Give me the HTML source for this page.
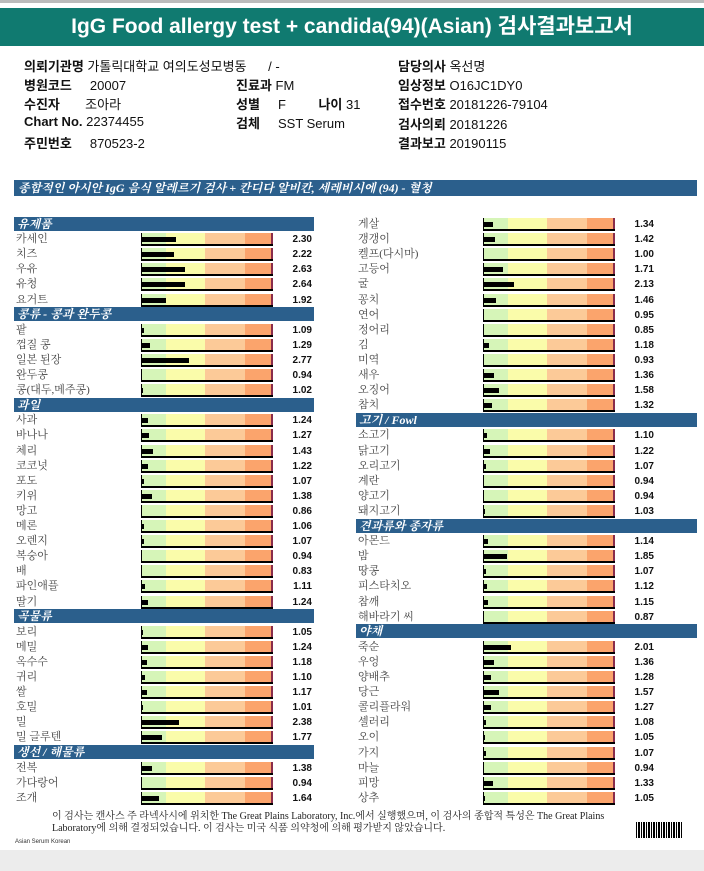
<!DOCTYPE html>
<html><head><meta charset="utf-8">
<style>
body{margin:0;width:704px;height:871px;background:#fff;position:relative;overflow:hidden;font-family:"Liberation Sans","Noto Sans CJK KR",sans-serif}
#topline{position:absolute;left:0;top:0;width:704px;height:3px;background:#bbb}
#title{position:absolute;left:0;top:8px;width:704px;height:38px;background:#107a70;color:#fff;font-size:21px;font-weight:bold;text-align:center;line-height:38px}
.info{position:absolute;font-size:13px;color:#111;white-space:nowrap}
.info b{font-weight:bold}
#banner{position:absolute;left:14px;top:180px;width:683px;height:16px;background:#2b5f8c;color:#fff;font:italic bold 12px "Liberation Serif","Noto Serif CJK SC",serif;line-height:16px;padding-left:4px;box-sizing:border-box}
.hdr{position:absolute;height:14px;background:#2b5f8c;color:#fff;font:italic bold 12px "Liberation Serif","Noto Serif CJK SC",serif;line-height:14px;padding-left:3px;box-sizing:border-box}
.lbl{position:absolute;font:11px "Liberation Serif","Noto Serif CJK SC",serif;color:#444;line-height:13px;white-space:nowrap}
.val{position:absolute;font:bold 10px "Liberation Sans",sans-serif;color:#111;text-align:right;width:40px;line-height:13px}
.track{position:absolute;height:13px;width:132px;border-left:1px solid #000;border-bottom:2px solid #000;box-sizing:border-box;background:linear-gradient(to right,#d6f5b8 0,#d6f5b8 24px,#fafcaa 24px,#fafcaa 63px,#fcca98 63px,#fcca98 103px,#fba46c 103px,#fba46c 129px,#8a2c4a 129px,#8a2c4a 132px)}
.bar{position:absolute;left:0;top:4px;height:5px;background:#000}
#foot{position:absolute;left:52px;top:811px;width:560px;font:10px "Liberation Serif","Noto Serif CJK SC",serif;color:#222;line-height:12px}
#small{position:absolute;left:15px;top:839px;font-size:6px;color:#333}
#bottom{position:absolute;left:0;top:850px;width:704px;height:21px;background:#ececec}
#barcode{position:absolute;left:636px;top:822px;width:47px;height:16px;background:repeating-linear-gradient(to right,#000 0,#000 1px,#fff 1px,#fff 2px,#000 2px,#000 4px,#fff 4px,#fff 5px)}
</style></head><body>
<div id="topline"></div>
<div id="title">IgG Food allergy test + candida(94)(Asian) 검사결과보고서</div>

<div class="info" style="left:24px;top:56px"><b>의뢰기관명</b> 가톨릭대학교 여의도성모병동 &nbsp;&nbsp;&nbsp;&nbsp; / -</div>
<div class="info" style="left:24px;top:75px"><b>병원코드</b> &nbsp;&nbsp;&nbsp; 20007</div>
<div class="info" style="left:24px;top:94px"><b>수진자</b> &nbsp;&nbsp;&nbsp;&nbsp;&nbsp; 조아라</div>
<div class="info" style="left:24px;top:114px"><b>Chart No.</b> 22374455</div>
<div class="info" style="left:24px;top:133px"><b>주민번호</b> &nbsp;&nbsp;&nbsp; 870523-2</div>
<div class="info" style="left:236px;top:75px"><b>진료과</b> FM</div>
<div class="info" style="left:236px;top:94px"><b>성별</b> &nbsp;&nbsp;&nbsp; F &nbsp;&nbsp;&nbsp;&nbsp;&nbsp;&nbsp;&nbsp; <b>나이</b> 31</div>
<div class="info" style="left:236px;top:113px"><b>검체</b> &nbsp;&nbsp;&nbsp; SST Serum</div>
<div class="info" style="left:398px;top:56px"><b>담당의사</b> 옥선명</div>
<div class="info" style="left:398px;top:75px"><b>임상정보</b> O16JC1DY0</div>
<div class="info" style="left:398px;top:94px"><b>접수번호</b> 20181226-79104</div>
<div class="info" style="left:398px;top:114px"><b>검사의뢰</b> 20181226</div>
<div class="info" style="left:398px;top:133px"><b>결과보고</b> 20190115</div>

<div id="banner">종합적인 아시안 IgG 음식 알레르기 검사 + 칸디다 알비칸, 세레비시에 (94) - 혈청</div>

<div id="chart"></div>

<div id="foot">이 검사는 캔사스 주 라넥사시에 위치한 The Great Plains Laboratory, Inc.에서 실행했으며, 이 검사의 종합적 특성은 The Great Plains Laboratory에 의해 결정되었습니다. 이 검사는 미국 식품 의약청에 의해 평가받지 않았습니다.</div>
<div id="small">Asian Serum Korean</div>
<div id="barcode"></div>
<div id="bottom"></div>

<script>
// Left column: section headers use null values
const leftLabels = ["유제품","카세인","치즈","우유","유청","요거트","콩류 - 콩과 완두콩","팥","껍질 콩","일본 된장","완두콩","콩(대두,메주콩)","과일","사과","바나나","체리","코코넛","포도","키위","망고","메론","오렌지","복숭아","배","파인애플","딸기","곡물류","보리","메밀","옥수수","귀리","쌀","호밀","밀","밀 글루텐","생선 / 해물류","전복","가다랑어","조개"];
const leftValues = [null,2.30,2.22,2.63,2.64,1.92,null,1.09,1.29,2.77,0.94,1.02,null,1.24,1.27,1.43,1.22,1.07,1.38,0.86,1.06,1.07,0.94,0.83,1.11,1.24,null,1.05,1.24,1.18,1.10,1.17,1.01,2.38,1.77,null,1.38,0.94,1.64];
const rightLabels = ["게살","갱갱이","켈프(다시마)","고등어","굴","꽁치","연어","정어리","김","미역","새우","오징어","참치","고기 / Fowl","소고기","닭고기","오리고기","계란","양고기","돼지고기","견과류와 종자류","아몬드","밤","땅콩","피스타치오","참깨","해바라기 씨","야채","죽순","우엉","양배추","당근","콜리플라워","셀러리","오이","가지","마늘","피망","상추"];
const rightValues = [1.34,1.42,1.00,1.71,2.13,1.46,0.95,0.85,1.18,0.93,1.36,1.58,1.32,null,1.10,1.22,1.07,0.94,0.94,1.03,null,1.14,1.85,1.07,1.12,1.15,0.87,null,2.01,1.36,1.28,1.57,1.27,1.08,1.05,1.07,0.94,1.33,1.05];

const Y0 = 216, PITCH = 15.1;
function yOf(i){ return Y0 + i*PITCH; }
function wOf(v){ return Math.max(0,(v-1)*26.5); }
const chart = document.getElementById('chart');

function drawColumn(labels, values, x0, hdrW){
  labels.forEach((lab,i)=>{
    const y = yOf(i), v = values[i];
    if(v===null){
      const h=document.createElement('div');
      h.className='hdr';
      
      
      h.style.left=x0+'px'; h.style.top=(y+0.5)+'px'; h.style.width=hdrW+'px';
      h.textContent=lab; chart.appendChild(h); return;
    }
    const l=document.createElement('div');
    l.className='lbl';
    
    
    l.style.left=(x0+2)+'px'; l.style.top=(y+2)+'px'; l.textContent=lab; chart.appendChild(l);
    const t=document.createElement('div');
    t.className='track';
    
    
    t.style.left=(x0+127)+'px'; t.style.top=(y+2)+'px'; chart.appendChild(t);
    const w=wOf(v);
    if(w>0){
      const b=document.createElement('div');
      b.className='bar';
      
      
      b.style.width=w+'px'; t.appendChild(b);
    }
    const n=document.createElement('div');
    n.className='val';
    
    
    n.style.left=(x0+258)+'px'; n.style.top=(y+2)+'px'; n.textContent=v.toFixed(2); chart.appendChild(n);
  });
}
drawColumn(leftLabels,leftValues,14,300);
drawColumn(rightLabels,rightValues,356,341);
</script>
</body></html>
